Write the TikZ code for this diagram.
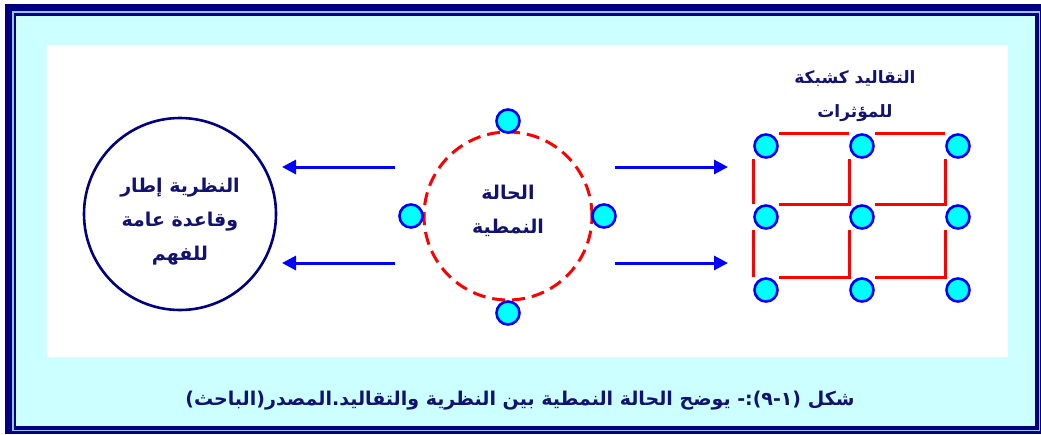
\documentclass[tikz,border=0pt]{standalone}
\usepackage{fontspec}
\TeXXeTstate=1
\newfontfamily\arabicfont[Script=Arabic]{DejaVu Sans}
\usetikzlibrary{arrows.meta,calc}

\definecolor{navy}{RGB}{0,0,128}
\definecolor{framelight}{RGB}{150,200,245}
\definecolor{panelcyan}{RGB}{204,255,255}
\definecolor{dotcyan}{RGB}{0,255,255}
\definecolor{arrowblue}{RGB}{0,0,255}
\definecolor{textnavy}{RGB}{18,18,112}

\begin{document}
\begin{tikzpicture}[x=1pt,y=-1pt,
  dot/.style={circle,draw=arrowblue,fill=dotcyan,line width=2.6pt,minimum size=23pt,inner sep=0pt},
  txt/.style={text=textnavy,align=center,inner sep=0pt,
    font=\arabicfont\bfseries\fontsize{19}{34}\selectfont},
  flow/.style={draw=arrowblue,line width=3pt,-{Triangle[length=14pt,width=14pt]}},
  net/.style={draw=red,line width=3pt}]
\useasboundingbox (0,0) rectangle (1041,434);

% double frame and panels
\fill[navy] (5,4) rectangle (1041,434);
\fill[framelight] (12,11) rectangle (1040,431);
\fill[navy] (13.5,12.5) rectangle (1038.5,429.5);
\fill[panelcyan] (16,16) rectangle (1035,426);
\fill[white] (47,45) rectangle (1008,357);

% theory circle
\node[circle,draw=navy,line width=2.6pt,minimum size=192pt,inner sep=0pt] (theory) at (180,214) {};
\node[txt] (theorytext) at (180,222)
  {\beginR النظرية إطار\endR\\\beginR وقاعدة عامة\endR\\\beginR للفهم\endR};

% stereotype state circle with four dots
\node[circle,draw=red,line width=3pt,dash pattern=on 13pt off 7pt,minimum size=168pt,inner sep=0pt] (state) at (508,216) {};
\node[txt] (statetext) at (508,211) {\beginR الحالة\endR\\\beginR النمطية\endR};
\node[dot] (st) at (508,121) {};
\node[dot] (sb) at (508,313) {};
\node[dot] (sl) at (411,216) {};
\node[dot] (sr) at (604,216) {};

% arrows
\coordinate (la1s) at (395,167); \coordinate (la1e) at (282,167);
\coordinate (la2s) at (395,263); \coordinate (la2e) at (282,263);
\coordinate (ra1s) at (615,167); \coordinate (ra1e) at (728,167);
\coordinate (ra2s) at (615,263); \coordinate (ra2e) at (728,263);
\draw[flow] (la1s) -- (la1e);
\draw[flow] (la2s) -- (la2e);
\draw[flow] (ra1s) -- (ra1e);
\draw[flow] (ra2s) -- (ra2e);

% network of traditions
\node[txt,font=\arabicfont\bfseries\fontsize{17}{34}\selectfont] (nettitle) at (855,96)
  {\beginR التقاليد كشبكة\endR\\\beginR للمؤثرات\endR};
\foreach \r/\c/\y in {1/1/146,1/2/146,1/3/146,2/1/217,2/2/217,2/3/217,3/1/290,3/2/290,3/3/290}
  \node[dot] (g\r\c) at ({670+96*\c},\y) {};
\draw[net] (g11.east |- g11.north) -- (g12.west |- g12.north);
\draw[net] (g12.east |- g12.north) -- (g13.west |- g13.north);
\foreach \r/\n in {1/2,2/3}{
  \draw[net] (g\r1.west |- g\r1.south) -- (g\n1.west |- g\n1.north);
  \draw[net] (g\r2.west |- g\r2.south) -- (g\n2.west |- g\n2.north) -- (g\n1.east |- g\n1.north);
  \draw[net] (g\r3.west |- g\r3.south) -- (g\n3.west |- g\n3.north) -- (g\n2.east |- g\n2.north);
}

% caption
\node[txt,font=\arabicfont\bfseries\fontsize{19}{22}\selectfont] (caption) at (520,401)
  {\beginR شكل (١-٩):- يوضح الحالة النمطية بين النظرية والتقاليد.المصدر(الباحث)\endR};
\end{tikzpicture}
\end{document}
